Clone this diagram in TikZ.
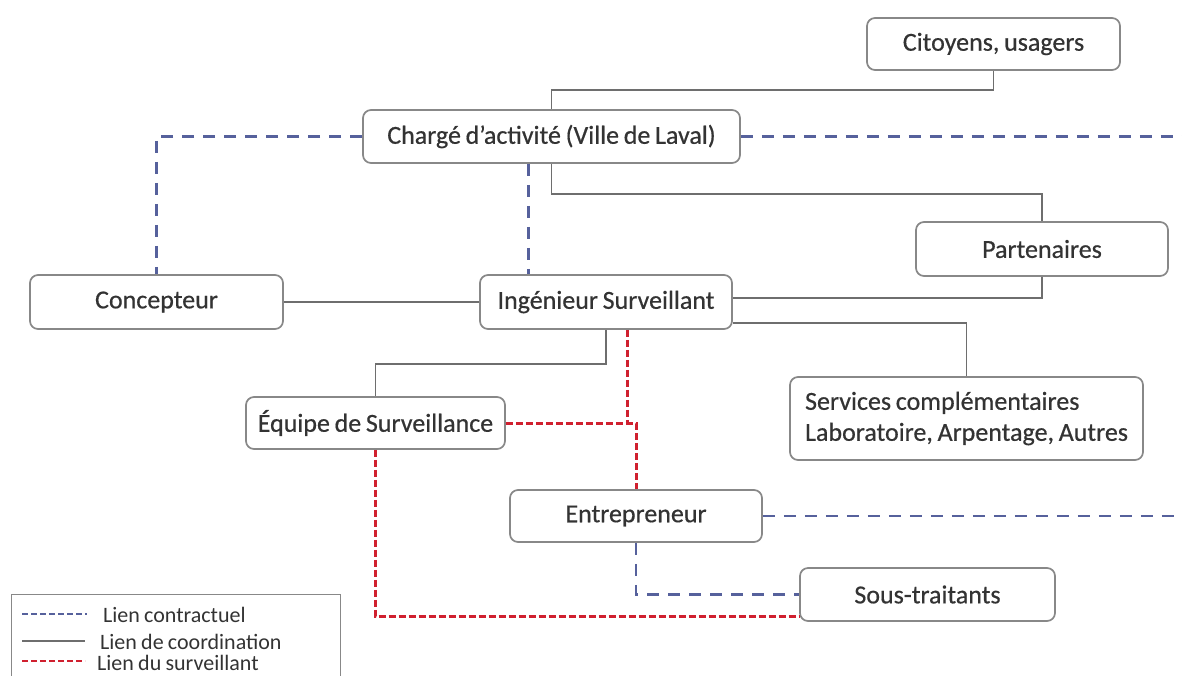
\documentclass[tikz,border=0pt]{standalone}
\usepackage{fontspec}
\setmainfont{Carlito}[WordSpace=0.85]
\newfontfamily\boxfont{Carlito}[WordSpace=0.8, FakeBold=0.5]
\definecolor{linegray}{HTML}{6E6E6E}
\definecolor{boxgray}{HTML}{888888}
\definecolor{txt}{HTML}{333333}
\definecolor{contractblue}{HTML}{56619C}
\definecolor{watchred}{HTML}{D0202F}
\begin{document}
\begin{tikzpicture}[x=1pt,y=-1pt,
  box/.style={draw=boxgray, line width=1.7pt, rounded corners=8pt, fill=white,
    text=txt, font=\boxfont\fontsize{26}{31}\selectfont, inner sep=0pt},
  coordline/.style={draw=linegray, line width=1.7pt},
  contractline/.style={draw=contractblue, line width=2.3pt, dash pattern=on 12pt off 9pt},
  watchline/.style={draw=watchred, line width=3pt, dash pattern=on 7pt off 3pt},
  legendtext/.style={anchor=west, text=txt, font=\fontsize{22}{24}\selectfont, inner sep=0pt}
]
\clip (0,0) rectangle (1182,675);
\fill[white] (0,0) rectangle (1182,675);

% organisation boxes
\node[box, minimum width=253pt, minimum height=52pt] (cit) at (993.5,44) {Citoyens, usagers};
\node[box, minimum width=377pt, minimum height=53pt] (chg) at (551.5,136.5) {Chargé d’activité (Ville de Laval)};
\node[box, minimum width=252pt, minimum height=54pt] (par) at (1042,249) {Partenaires};
\node[box, minimum width=253pt, minimum height=54pt] (con) at (156.5,302) {Concepteur};
\node[box, minimum width=252pt, minimum height=54pt] (ing) at (606,302) {Ingénieur Surveillant};
\node[box, minimum width=353pt, minimum height=83pt, align=left]
  (srv) at (966.5,418.5) {Services complémentaires\\Laboratoire, Arpentage, Autres};
\node[box, minimum width=259pt, minimum height=52pt] (equ) at (375.5,423) {Équipe de Surveillance};
\node[box, minimum width=252pt, minimum height=52pt] (ent) at (636,516) {Entrepreneur};
\node[box, minimum width=255pt, minimum height=53pt] (sous) at (927.5,594.5) {Sous-traitants};

% links leaving the page on the right
\coordinate (rimA) at (1182,136.5);
\coordinate (rimB) at (1182,516);

% coordination links
\draw[coordline] (cit.south) -- ++(0,19) -| (chg.north);
\draw[coordline] (chg.south) -- ++(0,30) -| (par.north);
\draw[coordline] (par.south) |- ([yshift=4pt]ing.east);
\draw[coordline] ([yshift=-21pt]ing.east) -| (srv.north);
\draw[coordline] (con) -- (ing);
\draw[coordline] (ing.south) -- ++(0,34) -| (equ.north);

% contractual links
\draw[contractline] (chg.west) -| (con.north);
\draw[contractline] (chg.east) -- (rimA);
\draw[contractline] ([xshift=-23pt]chg.south) -- ([xshift=-23pt]chg.south |- ing.north);
\draw[contractline] (ent.east) -- (rimB);
\draw[contractline] (ent.south) |- (sous.west);

% supervisor links
\draw[watchline] ([xshift=21pt]ing.south) -- ([xshift=21pt]ing.south |- equ.east);
\draw[watchline] (equ.east) -| (ent.north);
\draw[watchline] (equ.south) |- ([yshift=5pt]sous.south west);

% legend
\node[draw=boxgray, line width=1.2pt, minimum width=329pt, minimum height=110pt,
  anchor=north west, inner sep=0pt] (legend) at (11,594) {};
\coordinate (lcA) at (22,614);  \coordinate (lcB) at (87,614);
\coordinate (lgA) at (22,641);  \coordinate (lgB) at (85,641);
\coordinate (lrA) at (22,661);  \coordinate (lrB) at (85,661);
\draw[draw=contractblue, line width=1.4pt, dash pattern=on 6pt off 3pt] (lcA) -- (lcB);
\draw[draw=linegray, line width=1.2pt] (lgA) -- (lgB);
\draw[draw=watchred, line width=1.8pt, dash pattern=on 6pt off 3pt] (lrA) -- (lrB);
\node[legendtext] (ltA) at (103,615) {Lien contractuel};
\node[legendtext] (ltB) at (100,642) {Lien de coordination};
\node[legendtext] (ltC) at (97,663) {Lien du surveillant};
\end{tikzpicture}
\end{document}
